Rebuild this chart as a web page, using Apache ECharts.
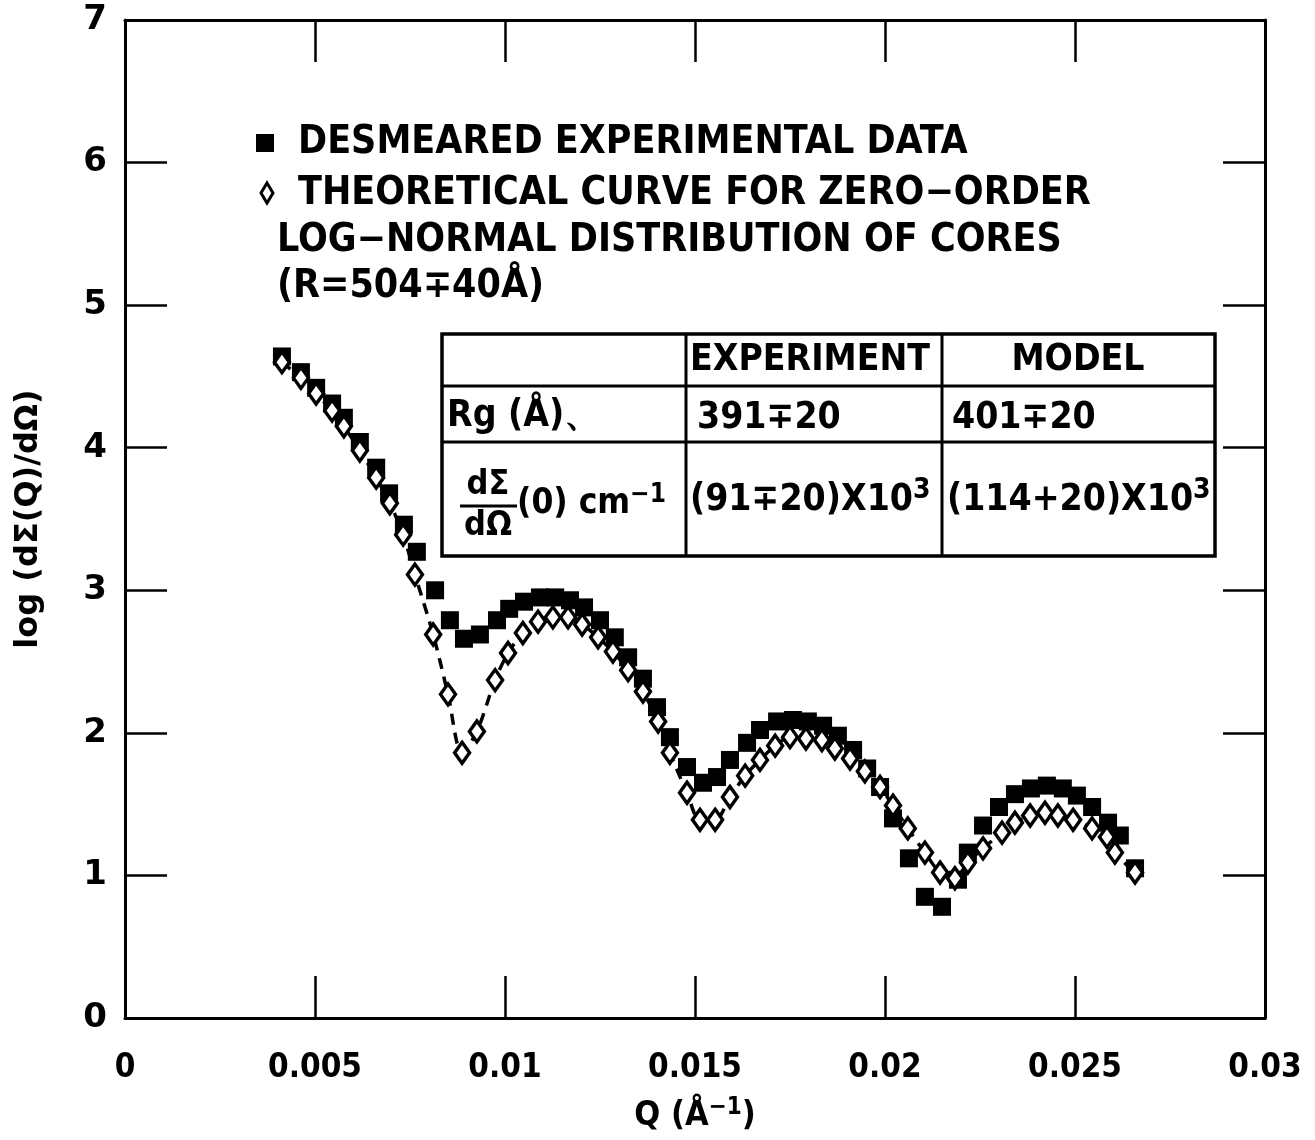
<!DOCTYPE html>
<html>
<head>
<meta charset="utf-8">
<script src="https://cdn.jsdelivr.net/npm/echarts@6/dist/echarts.min.js"></script>
<style>
  html, body { margin: 0; padding: 0; background: #fff; }
  #chart { width: 1315px; height: 1140px; }
</style>
</head>
<body>
<div id="chart"></div>
<script>
// tick labels
var xTickLabels = ['0', '0.005', '0.01', '0.015', '0.02', '0.025', '0.03'];
var yTickLabels = ['0', '1', '2', '3', '4', '5', '6', '7'];

// desmeared experimental data (Q, log dSigma/dOmega)
var expQ = [0.00413, 0.00463, 0.00503, 0.00545, 0.00576, 0.00618, 0.00661, 0.00695, 0.00734, 0.00768,
    0.00816, 0.00855, 0.00892, 0.00934, 0.00979, 0.01011, 0.0105, 0.01092, 0.01132, 0.01171,
    0.01208, 0.0125, 0.01289, 0.01324, 0.01363, 0.014, 0.01434, 0.01479, 0.01521, 0.01558,
    0.01592, 0.01637, 0.01671, 0.01716, 0.01758, 0.01797, 0.01837, 0.01876, 0.01916, 0.01953,
    0.01987, 0.02021, 0.02063, 0.02105, 0.0215, 0.02192, 0.02218, 0.02258, 0.023, 0.02342,
    0.02384, 0.02426, 0.02468, 0.02505, 0.02545, 0.02587, 0.02618, 0.02658];
var expI = [4.64, 4.53, 4.42, 4.31, 4.21, 4.04, 3.86, 3.68, 3.46, 3.27,
    3.00, 2.79, 2.66, 2.69, 2.79, 2.87, 2.92, 2.95, 2.95, 2.93,
    2.88, 2.79, 2.67, 2.53, 2.38, 2.18, 1.97, 1.76, 1.65, 1.69,
    1.81, 1.93, 2.02, 2.08, 2.09, 2.08, 2.05, 1.98, 1.88, 1.75,
    1.62, 1.40, 1.12, 0.85, 0.78, 0.97, 1.16, 1.35, 1.48, 1.57,
    1.61, 1.63, 1.61, 1.56, 1.48, 1.37, 1.28, 1.05];

// theoretical curve, zero-order log-normal distribution of cores
var modQ = [0.00413, 0.00463, 0.00503, 0.00545, 0.00576, 0.00618, 0.00661, 0.00697, 0.00732, 0.00763,
    0.00811, 0.0085, 0.00887, 0.00926, 0.00974, 0.01008, 0.01047, 0.01087, 0.01126, 0.01166,
    0.01203, 0.01245, 0.01284, 0.01324, 0.01363, 0.01403, 0.01434, 0.01479, 0.01513, 0.01553,
    0.01592, 0.01632, 0.01671, 0.01711, 0.0175, 0.01792, 0.01834, 0.01868, 0.01908, 0.01947,
    0.01987, 0.02021, 0.0206, 0.02105, 0.02145, 0.02184, 0.02218, 0.02258, 0.02308, 0.02342,
    0.02382, 0.02421, 0.02455, 0.02495, 0.02545, 0.02584, 0.02605, 0.02658];
var modI = [4.60, 4.49, 4.38, 4.26, 4.15, 3.98, 3.79, 3.61, 3.39, 3.11,
    2.69, 2.27, 1.86, 2.01, 2.37, 2.56, 2.70, 2.78, 2.81, 2.81,
    2.76, 2.67, 2.57, 2.44, 2.29, 2.08, 1.86, 1.58, 1.39, 1.39,
    1.55, 1.70, 1.81, 1.91, 1.97, 1.96, 1.95, 1.89, 1.82, 1.73,
    1.62, 1.49, 1.33, 1.16, 1.02, 0.98, 1.09, 1.19, 1.30, 1.37,
    1.42, 1.44, 1.42, 1.39, 1.33, 1.27, 1.16, 1.02];

function pairs(xs, ys) {
    var out = [];
    for (var i = 0; i < xs.length; i++) out.push([xs[i], ys[i]]);
    return out;
}

var FONT = 'DejaVu Sans Condensed';
var WIDE = 'DejaVu Sans';

function txt(x, y, s, opt) {
    var st = { text: s, fontSize: 38, fontFamily: FONT, fontWeight: 'bold', fill: '#000', verticalAlign: 'middle' };
    for (var k in opt) st[k] = opt[k];
    return { type: 'text', x: x, y: y, z: 12, style: st };
}

function supText(x, y, main, sup, size, supSize) {
    return { type: 'text', x: x, y: y, z: 12, style: {
        text: '{n|' + main + '}{s|' + sup + '}', verticalAlign: 'middle',
        rich: {
            n: { fontSize: size, fontFamily: FONT, fontWeight: 'bold', fill: '#000' },
            s: { fontSize: supSize, fontFamily: FONT, fontWeight: 'bold', fill: '#000', verticalAlign: 'top', padding: [0, 0, 18, 0] }
        } } };
}

window.onload = function () {
    var chart = echarts.init(document.getElementById('chart'));

    function tick() { return { show: true, inside: true, length: 42, lineStyle: { color: '#000', width: 2.5 } }; }
    function line() { return { show: true, onZero: false, lineStyle: { color: '#000', width: 3 } }; }

    var option = {
        animation: false,
        backgroundColor: '#fff',
        grid: { left: 125, right: 50, top: 20, bottom: 122 },
        xAxis: [{
            type: 'value', min: 0, max: 0.03, interval: 0.005, position: 'bottom',
            axisLine: line(), axisTick: tick(), splitLine: { show: false },
            axisLabel: {
                margin: 34, color: '#000', fontSize: 33, fontWeight: 'bold', fontFamily: FONT,
                formatter: function (v, i) { return xTickLabels[i]; }
            },
            name: '{n|Q (Å}{s|−1}{n|)}', nameLocation: 'middle', nameGap: 78,
            nameTextStyle: {
                rich: {
                    n: { fontSize: 34, fontFamily: FONT, fontWeight: 'bold', color: '#000' },
                    s: { fontSize: 24, fontFamily: FONT, fontWeight: 'bold', color: '#000', verticalAlign: 'top', padding: [0, 0, 16, 0] }
                }
            }
        }, {
            type: 'value', min: 0, max: 0.03, interval: 0.005, position: 'top',
            axisLine: line(), axisTick: tick(), axisLabel: { show: false }, splitLine: { show: false }
        }],
        yAxis: [{
            type: 'value', min: 0, max: 7, interval: 1, position: 'left',
            axisLine: line(), axisTick: tick(), splitLine: { show: false },
            axisLabel: {
                margin: 18, color: '#000', fontSize: 34, fontWeight: 'bold', fontFamily: WIDE,
                formatter: function (v, i) { return yTickLabels[i]; }
            },
            name: 'log (dΣ(Q)/dΩ)', nameLocation: 'middle', nameGap: 80, nameRotate: 90,
            nameTextStyle: { fontSize: 32, fontFamily: WIDE, fontWeight: 'bold', color: '#000' }
        }, {
            type: 'value', min: 0, max: 7, interval: 1, position: 'right',
            axisLine: line(), axisTick: tick(), axisLabel: { show: false }, splitLine: { show: false }
        }],
        series: [{
            name: 'DESMEARED EXPERIMENTAL DATA',
            type: 'scatter',
            data: pairs(expQ, expI),
            symbol: 'rect',
            symbolSize: 18,
            itemStyle: { color: '#000', opacity: 1 },
            z: 2
        }, {
            name: 'THEORETICAL CURVE FOR ZERO−ORDER',
            type: 'line',
            data: pairs(modQ, modI),
            smooth: 0.3,
            symbol: 'diamond',
            symbolSize: [15, 21],
            showAllSymbol: true,
            lineStyle: { color: '#000', width: 3.5, type: [11, 8] },
            itemStyle: { color: '#fff', borderColor: '#000', borderWidth: 3.5 },
            z: 3
        }],
        graphic: [
            // legend block
            { type: 'rect', shape: { x: 256, y: 134, width: 18, height: 18 }, style: { fill: '#000' } },
            { type: 'polygon', shape: { points: [[267, 183], [273, 193], [267, 203], [261, 193]] },
              style: { fill: '#fff', stroke: '#000', lineWidth: 3 } },
            txt(298, 143, 'DESMEARED EXPERIMENTAL DATA', { fontSize: 39 }),
            txt(298, 194, 'THEORETICAL CURVE FOR ZERO−ORDER', { fontSize: 39 }),
            txt(277, 241, 'LOG−NORMAL DISTRIBUTION OF CORES', { fontSize: 39 }),
            txt(277, 287, '(R=504∓40Å)', { fontSize: 39 }),
            // table
            { type: 'rect', shape: { x: 442, y: 334, width: 773, height: 222 }, style: { fill: '#fff', stroke: '#000', lineWidth: 3.5 }, z: 10 },
            { type: 'line', shape: { x1: 686, y1: 334, x2: 686, y2: 556 }, style: { stroke: '#000', lineWidth: 3 }, z: 11 },
            { type: 'line', shape: { x1: 942, y1: 334, x2: 942, y2: 556 }, style: { stroke: '#000', lineWidth: 3 }, z: 11 },
            { type: 'line', shape: { x1: 442, y1: 386, x2: 1215, y2: 386 }, style: { stroke: '#000', lineWidth: 3 }, z: 11 },
            { type: 'line', shape: { x1: 442, y1: 442, x2: 1215, y2: 442 }, style: { stroke: '#000', lineWidth: 3 }, z: 11 },
            txt(690, 360, 'EXPERIMENT', { fontSize: 37 }),
            txt(1078, 360, 'MODEL', { fontSize: 37, align: 'center' }),
            txt(447, 416, 'Rg (Å)、', { fontSize: 37 }),
            txt(697, 418, '391∓20', { fontSize: 37 }),
            txt(952, 418, '401∓20', { fontSize: 37 }),
            txt(488, 502, 'dΣ', { fontSize: 34, align: 'center', verticalAlign: 'bottom' }),
            { type: 'line', shape: { x1: 460, y1: 506, x2: 517, y2: 506 }, style: { stroke: '#000', lineWidth: 3 }, z: 12 },
            txt(488, 509, 'dΩ', { fontSize: 34, align: 'center', verticalAlign: 'top' }),
            supText(517, 504, '(0) cm', '−1', 35, 26),
            supText(690, 500, '(91∓20)X10', '3', 37, 28),
            supText(947, 500, '(114+20)X10', '3', 37, 28)
        ]
    };

    chart.setOption(option);
};
</script>
</body>
</html>
